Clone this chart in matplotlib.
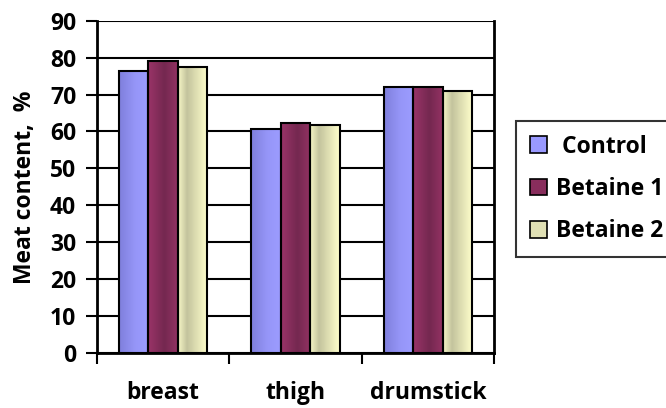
import matplotlib
matplotlib.use("Agg")
import matplotlib.pyplot as plt
import numpy as np
from matplotlib.colors import LinearSegmentedColormap
from matplotlib.patches import Patch

categories = ["breast", "thigh", "drumstick"]
series_names = [" Control", "Betaine 1", "Betaine 2"]
control = [76.4, 60.6, 72.1]
betaine1 = [79.0, 62.2, 72.1]
betaine2 = [77.4, 61.7, 70.9]
yticks = [0, 10, 20, 30, 40, 50, 60, 70, 80, 90]
ylabel = "Meat content,  %"

series = [control, betaine1, betaine2]
grad_stops = [
    [(0.0, "#7f7fdc"), (0.55, "#9696f8"), (1.0, "#9c9cff")],
    [(0.0, "#9a3468"), (0.55, "#742850"), (1.0, "#933263")],
    [(0.0, "#f6f6c6"), (0.3, "#c3c39d"), (0.7, "#e6e6b8"), (1.0, "#ffffcc")],
]
legend_colors = ["#9999ff", "#882d5c", "#e0e0b4"]

plt.rcParams['font.family'] = ['Open Sans', 'DejaVu Sans']
plt.rcParams['font.weight'] = 'bold'
FS = 16.5

fig = plt.figure(figsize=(6.66, 4.08), dpi=100)
ax = fig.add_axes([97/666, 1-353/408, (494-97)/666, (353-20.7)/408])

x = np.arange(len(categories))
w = 0.223
offsets = [-w, 0, w]
for vals, off, stops in zip(series, offsets, grad_stops):
    cmap = LinearSegmentedColormap.from_list("g", stops)
    bars = ax.bar(x + off, vals, width=w, facecolor="none", edgecolor="black",
                  linewidth=1.5, zorder=3)
    for b in bars:
        grad = np.linspace(0, 1, 64).reshape(1, -1)
        ax.imshow(grad, cmap=cmap, aspect="auto", interpolation="bicubic",
                  extent=[b.get_x(), b.get_x() + b.get_width(), 0, b.get_height()],
                  zorder=2)

ax.set_xlim(-0.5, len(categories) - 0.5)
ax.set_ylim(0, 90)
ax.set_yticks(yticks)
ax.yaxis.grid(True, color="black", linewidth=1.5, zorder=0)
ax.set_axisbelow(True)

ax.set_xticks(x)
ax.set_xticklabels(categories, fontsize=FS, fontweight="bold")
ax.set_xticks(np.arange(-0.5, len(categories)), minor=True)
ax.tick_params(axis="x", which="major", length=0, pad=20.5)
ax.tick_params(axis="x", which="minor", length=8, width=1.5, direction="out")
ax.tick_params(axis="y", length=8, width=1.5, direction="out", labelsize=FS, pad=7)
for lab in ax.get_yticklabels():
    lab.set_fontweight("bold")

for s in ["left", "bottom", "right"]:
    ax.spines[s].set_linewidth(2)
    ax.spines[s].set_color("black")
ax.spines["top"].set_visible(False)

ax.set_ylabel(ylabel, fontsize=FS, fontweight="bold", labelpad=9)

handles = [Patch(facecolor=c, edgecolor="black", linewidth=1.2) for c in legend_colors]
leg = fig.legend(handles, series_names, loc="upper left",
                 bbox_to_anchor=(516/666, 1-121/408), bbox_transform=fig.transFigure,
                 frameon=True, fancybox=False, edgecolor="black", borderaxespad=0,
                 prop={"size": FS, "weight": "bold"}, handlelength=0.75, handleheight=0.75,
                 handletextpad=0.4, labelspacing=0.8, borderpad=0.6)
leg.get_frame().set_linewidth(1.5)

fig.savefig("out.png", dpi=100)
